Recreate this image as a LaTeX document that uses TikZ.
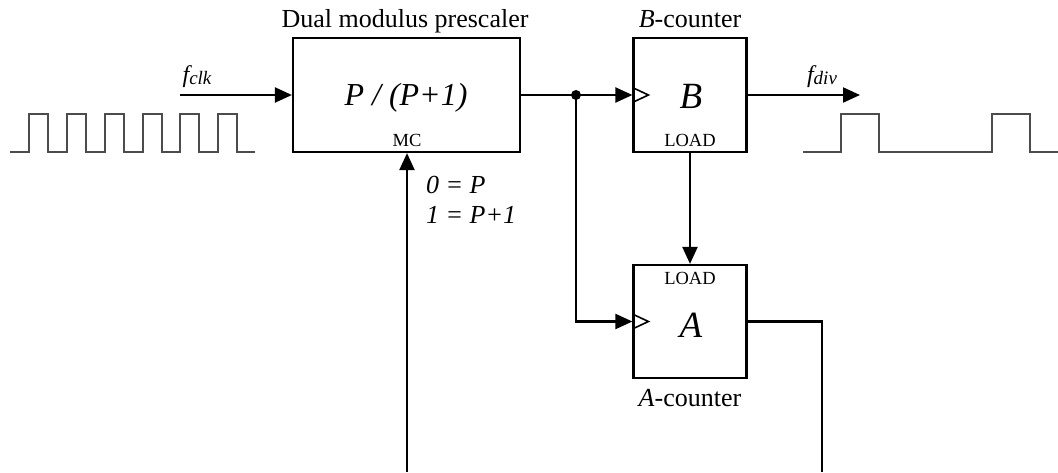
\documentclass[tikz,border=0pt]{standalone}
\usepackage{fontspec}
\setmainfont{Liberation Serif}
\usetikzlibrary{arrows.meta}
\tikzset{
  >={Triangle[length=17pt,width=15pt]},
  blk/.style={draw,line width=2.2pt,inner sep=0pt},
  pin/.style={inner sep=0pt,anchor=base,font=\fontsize{18.5}{21}\selectfont},
  big/.style={inner sep=0pt,anchor=base,font=\fontsize{37}{42}\selectfont\itshape},
  ttl/.style={inner sep=0pt,anchor=base,font=\fontsize{26}{30}\selectfont},
  sel/.style={inner sep=0pt,anchor=base west,font=\fontsize{26}{30}\selectfont\itshape},
  sig/.style={inner sep=0pt,anchor=base,font=\fontsize{24}{28}\selectfont\itshape},
  d/.style={circle,fill,inner sep=0pt,minimum size=10pt},
  wave/.style={line width=1.6pt,draw=black!70},
  every picture/.style={line width=2.2pt},
}
\newcommand{\sub}[1]{\raisebox{-2pt}{\fontsize{19}{22}\selectfont #1}}
\begin{document}
\begin{tikzpicture}[x=1pt,y=-1pt]
\useasboundingbox (0,0) rectangle (1058,472);
% blocks
\node[blk,minimum width=227pt,minimum height=114pt] (pre) at (406.5,95){};
\node[blk,minimum width=113pt,minimum height=114pt] (bcnt) at (690,95){};
\node[blk,minimum width=113pt,minimum height=113pt] (acnt) at (690,321.5){};
% block texts
\node[ttl] (ptitle) at (405,27){Dual modulus prescaler};
\node[ttl] (btitle) at (690,27){\textit{B}-counter};
\node[ttl] (atitle) at (690,406){\textit{A}-counter};
\node[big,font=\fontsize{32}{38}\selectfont\itshape] (pdiv) at (406,105){P / (P+1)};
\node[big] (bname) at (691,108){B};
\node[big] (aname) at (691,337){A};
\node[pin] (mc) at (407,146){MC};
\node[pin] (bload) at (690,146){LOAD};
\node[pin] (aload) at (690,284){LOAD};
\node[sel] (sel0) at (425,193){0 = P};
\node[sel] (sel1) at (425,223){1 = P+1};
\node[sig] (fclk) at (197,82){f\sub{clk}};
\node[sig] (fdiv) at (822,82){f\sub{div}};
% clock inputs
\draw[line width=1.6pt] ([yshift=7.5pt]bcnt.west) -- ++(16,7.5) -- ++(-16,7.5);
\draw[line width=1.6pt] ([yshift=7.5pt]acnt.west) -- ++(16,7.5) -- ++(-16,7.5);
% connections
\coordinate (cin) at (180,95); \coordinate (cout) at (860,95);
\coordinate (j) at (576,95);
\coordinate (mcin) at (407,472); \coordinate (aout) at (822,472);
\draw[->] (cin) -- (pre.west);
\draw[->] (pre.east) -- (bcnt.west);
\node[d] at (j){};
\draw[->] (j) |- (acnt.west);
\draw[->] (bcnt.east) -- (cout);
\draw[->] (bcnt.south) -- (acnt.north);
\draw (acnt.east) -| (aout);
\draw[->] (mcin) -- (mcin |- pre.south);
% waveforms
\draw[wave] (10,152) -| (29,114) -| (48,152) -| (67,114) -| (86,152) -| (105,114) -| (124,152)
  -| (143,114) -| (162,152) -| (180,114) -| (199,152) -| (218,114) -| (237,152) -- (255,152);
\draw[wave] (803,152) -| (841,114) -| (879,152) -| (992,114) -| (1030,152) -- (1058,152);
\end{tikzpicture}
\end{document}
